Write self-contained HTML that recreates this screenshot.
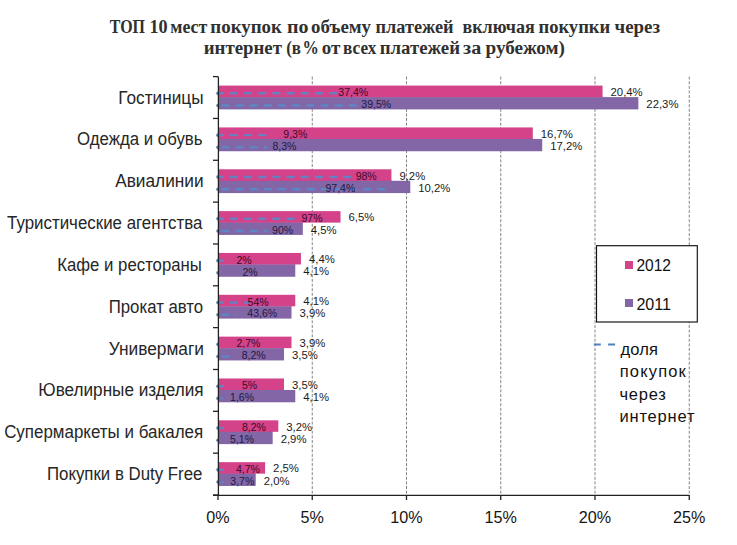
<!DOCTYPE html><html><head><meta charset="utf-8"><style>html,body{margin:0;padding:0;background:#fff;}svg{display:block;}text{font-family:"Liberation Sans",sans-serif;}</style></head><body>
<svg width="737" height="545" viewBox="0 0 737 545">
<rect width="737" height="545" fill="#fff"/>
<text x="109.80" y="32.6" textLength="35.21" lengthAdjust="spacingAndGlyphs" style="font-family:'Liberation Serif',serif;font-size:18px;font-weight:700" fill="#303030">ТОП</text>
<text x="149.49" y="32.6" textLength="18.21" lengthAdjust="spacingAndGlyphs" style="font-family:'Liberation Serif',serif;font-size:18px;font-weight:700" fill="#303030">10</text>
<text x="170.21" y="32.6" textLength="37.11" lengthAdjust="spacingAndGlyphs" style="font-family:'Liberation Serif',serif;font-size:18px;font-weight:700" fill="#303030">мест</text>
<text x="210.35" y="32.6" textLength="71.60" lengthAdjust="spacingAndGlyphs" style="font-family:'Liberation Serif',serif;font-size:18px;font-weight:700" fill="#303030">покупок</text>
<text x="287.09" y="32.6" textLength="21.53" lengthAdjust="spacingAndGlyphs" style="font-family:'Liberation Serif',serif;font-size:18px;font-weight:700" fill="#303030">по</text>
<text x="311.05" y="32.6" textLength="59.96" lengthAdjust="spacingAndGlyphs" style="font-family:'Liberation Serif',serif;font-size:18px;font-weight:700" fill="#303030">объему</text>
<text x="375.49" y="32.6" textLength="78.13" lengthAdjust="spacingAndGlyphs" style="font-family:'Liberation Serif',serif;font-size:18px;font-weight:700" fill="#303030">платежей</text>
<text x="462.40" y="32.6" textLength="72.46" lengthAdjust="spacingAndGlyphs" style="font-family:'Liberation Serif',serif;font-size:18px;font-weight:700" fill="#303030">включая</text>
<text x="538.47" y="32.6" textLength="71.76" lengthAdjust="spacingAndGlyphs" style="font-family:'Liberation Serif',serif;font-size:18px;font-weight:700" fill="#303030">покупки</text>
<text x="614.60" y="32.6" textLength="45.39" lengthAdjust="spacingAndGlyphs" style="font-family:'Liberation Serif',serif;font-size:18px;font-weight:700" fill="#303030">через</text>
<text x="203.76" y="54.3" textLength="78.13" lengthAdjust="spacingAndGlyphs" style="font-family:'Liberation Serif',serif;font-size:18px;font-weight:700" fill="#303030">интернет</text>
<text x="286.16" y="54.3" textLength="14.82" lengthAdjust="spacingAndGlyphs" style="font-family:'Liberation Serif',serif;font-size:18px;font-weight:700" fill="#303030">(в</text>
<text x="302.59" y="54.3" textLength="16.32" lengthAdjust="spacingAndGlyphs" style="font-family:'Liberation Serif',serif;font-size:18px;font-weight:700" fill="#303030">%</text>
<text x="321.75" y="54.3" textLength="18.54" lengthAdjust="spacingAndGlyphs" style="font-family:'Liberation Serif',serif;font-size:18px;font-weight:700" fill="#303030">от</text>
<text x="343.04" y="54.3" textLength="33.25" lengthAdjust="spacingAndGlyphs" style="font-family:'Liberation Serif',serif;font-size:18px;font-weight:700" fill="#303030">всех</text>
<text x="379.66" y="54.3" textLength="80.36" lengthAdjust="spacingAndGlyphs" style="font-family:'Liberation Serif',serif;font-size:18px;font-weight:700" fill="#303030">платежей</text>
<text x="463.09" y="54.3" textLength="18.07" lengthAdjust="spacingAndGlyphs" style="font-family:'Liberation Serif',serif;font-size:18px;font-weight:700" fill="#303030">за</text>
<text x="485.50" y="54.3" textLength="79.46" lengthAdjust="spacingAndGlyphs" style="font-family:'Liberation Serif',serif;font-size:18px;font-weight:700" fill="#303030">рубежом)</text>
<line x1="312.25" y1="76.60" x2="312.25" y2="495.00" stroke="#858585" stroke-width="1" stroke-dasharray="3 1.6"/>
<line x1="406.50" y1="76.60" x2="406.50" y2="495.00" stroke="#858585" stroke-width="1" stroke-dasharray="3 1.6"/>
<line x1="500.75" y1="76.60" x2="500.75" y2="495.00" stroke="#858585" stroke-width="1" stroke-dasharray="3 1.6"/>
<line x1="595.00" y1="76.60" x2="595.00" y2="495.00" stroke="#858585" stroke-width="1" stroke-dasharray="3 1.6"/>
<line x1="689.25" y1="76.60" x2="689.25" y2="495.00" stroke="#858585" stroke-width="1" stroke-dasharray="3 1.6"/>
<rect x="218.0" y="97.10" width="420.36" height="12.3" fill="#8266A6"/>
<rect x="218.0" y="96.10" width="384.54" height="1.2" fill="#8266A6"/>
<rect x="218.0" y="85.60" width="384.54" height="11.5" fill="#D4428A"/>
<rect x="218.0" y="138.94" width="324.22" height="12.3" fill="#8266A6"/>
<rect x="218.0" y="137.94" width="314.80" height="1.2" fill="#8266A6"/>
<rect x="218.0" y="127.44" width="314.80" height="11.5" fill="#D4428A"/>
<rect x="218.0" y="180.78" width="192.27" height="12.3" fill="#8266A6"/>
<rect x="218.0" y="179.78" width="173.42" height="1.2" fill="#8266A6"/>
<rect x="218.0" y="169.28" width="173.42" height="11.5" fill="#D4428A"/>
<rect x="218.0" y="222.62" width="84.82" height="12.3" fill="#8266A6"/>
<rect x="218.0" y="221.62" width="84.82" height="1.2" fill="#8266A6"/>
<rect x="218.0" y="211.12" width="122.52" height="11.5" fill="#D4428A"/>
<rect x="218.0" y="264.46" width="77.28" height="12.3" fill="#8266A6"/>
<rect x="218.0" y="263.46" width="77.28" height="1.2" fill="#8266A6"/>
<rect x="218.0" y="252.96" width="82.94" height="11.5" fill="#D4428A"/>
<rect x="218.0" y="306.30" width="73.51" height="12.3" fill="#8266A6"/>
<rect x="218.0" y="305.30" width="73.51" height="1.2" fill="#8266A6"/>
<rect x="218.0" y="294.80" width="77.28" height="11.5" fill="#D4428A"/>
<rect x="218.0" y="348.14" width="65.98" height="12.3" fill="#8266A6"/>
<rect x="218.0" y="347.14" width="65.98" height="1.2" fill="#8266A6"/>
<rect x="218.0" y="336.64" width="73.51" height="11.5" fill="#D4428A"/>
<rect x="218.0" y="389.98" width="77.28" height="12.3" fill="#8266A6"/>
<rect x="218.0" y="388.98" width="65.98" height="1.2" fill="#8266A6"/>
<rect x="218.0" y="378.48" width="65.98" height="11.5" fill="#D4428A"/>
<rect x="218.0" y="431.82" width="54.67" height="12.3" fill="#8266A6"/>
<rect x="218.0" y="430.82" width="54.67" height="1.2" fill="#8266A6"/>
<rect x="218.0" y="420.32" width="60.32" height="11.5" fill="#D4428A"/>
<rect x="218.0" y="473.66" width="37.70" height="12.3" fill="#8266A6"/>
<rect x="218.0" y="472.66" width="37.70" height="1.2" fill="#8266A6"/>
<rect x="218.0" y="462.16" width="47.12" height="11.5" fill="#D4428A"/>
<line x1="217.0" y1="93.30" x2="337" y2="93.30" stroke="#5A88C8" stroke-opacity="0.9" stroke-width="2.4" stroke-dasharray="8 6.15" stroke-dashoffset="1.15"/>
<circle cx="218.0" cy="93.30" r="1.8" fill="#4F81BD"/>
<line x1="217.0" y1="105.50" x2="358" y2="105.50" stroke="#5A88C8" stroke-opacity="0.9" stroke-width="2.4" stroke-dasharray="8 6.15" stroke-dashoffset="-4.5"/>
<circle cx="218.0" cy="105.50" r="1.8" fill="#4F81BD"/>
<line x1="217.0" y1="135.14" x2="267" y2="135.14" stroke="#5A88C8" stroke-opacity="0.9" stroke-width="2.4" stroke-dasharray="8 6.15" stroke-dashoffset="1.15"/>
<circle cx="218.0" cy="135.14" r="1.8" fill="#4F81BD"/>
<line x1="217.0" y1="147.34" x2="267" y2="147.34" stroke="#5A88C8" stroke-opacity="0.9" stroke-width="2.4" stroke-dasharray="8 6.15" stroke-dashoffset="-4.5"/>
<circle cx="218.0" cy="147.34" r="1.8" fill="#4F81BD"/>
<line x1="217.0" y1="176.98" x2="354" y2="176.98" stroke="#5A88C8" stroke-opacity="0.9" stroke-width="2.4" stroke-dasharray="8 6.15" stroke-dashoffset="1.15"/>
<circle cx="218.0" cy="176.98" r="1.8" fill="#4F81BD"/>
<line x1="217.0" y1="189.18" x2="391" y2="189.18" stroke="#5A88C8" stroke-opacity="0.9" stroke-width="2.4" stroke-dasharray="8 6.15" stroke-dashoffset="-4.5"/>
<circle cx="218.0" cy="189.18" r="1.8" fill="#4F81BD"/>
<line x1="217.0" y1="218.82" x2="297.5" y2="218.82" stroke="#5A88C8" stroke-opacity="0.9" stroke-width="2.4" stroke-dasharray="8 6.15" stroke-dashoffset="1.15"/>
<circle cx="218.0" cy="218.82" r="1.8" fill="#4F81BD"/>
<line x1="217.0" y1="231.02" x2="268" y2="231.02" stroke="#5A88C8" stroke-opacity="0.9" stroke-width="2.4" stroke-dasharray="8 6.15" stroke-dashoffset="-4.5"/>
<circle cx="218.0" cy="231.02" r="1.8" fill="#4F81BD"/>
<line x1="217.0" y1="260.66" x2="225" y2="260.66" stroke="#5A88C8" stroke-opacity="0.9" stroke-width="2.4" stroke-dasharray="8 6.15" stroke-dashoffset="1.15"/>
<circle cx="218.0" cy="260.66" r="1.8" fill="#4F81BD"/>
<line x1="217.0" y1="272.86" x2="220" y2="272.86" stroke="#5A88C8" stroke-opacity="0.9" stroke-width="2.4" stroke-dasharray="8 6.15" stroke-dashoffset="-4.5"/>
<circle cx="218.0" cy="272.86" r="1.8" fill="#4F81BD"/>
<line x1="217.0" y1="302.50" x2="249" y2="302.50" stroke="#5A88C8" stroke-opacity="0.9" stroke-width="2.4" stroke-dasharray="8 6.15" stroke-dashoffset="1.15"/>
<circle cx="218.0" cy="302.50" r="1.8" fill="#4F81BD"/>
<line x1="217.0" y1="314.70" x2="236.7" y2="314.70" stroke="#5A88C8" stroke-opacity="0.9" stroke-width="2.4" stroke-dasharray="8 6.15" stroke-dashoffset="-4.5"/>
<circle cx="218.0" cy="314.70" r="1.8" fill="#4F81BD"/>
<line x1="217.0" y1="344.34" x2="220" y2="344.34" stroke="#5A88C8" stroke-opacity="0.9" stroke-width="2.4" stroke-dasharray="8 6.15" stroke-dashoffset="1.15"/>
<circle cx="218.0" cy="344.34" r="1.8" fill="#4F81BD"/>
<line x1="217.0" y1="356.54" x2="231" y2="356.54" stroke="#5A88C8" stroke-opacity="0.9" stroke-width="2.4" stroke-dasharray="8 6.15" stroke-dashoffset="-4.5"/>
<circle cx="218.0" cy="356.54" r="1.8" fill="#4F81BD"/>
<line x1="217.0" y1="386.18" x2="225" y2="386.18" stroke="#5A88C8" stroke-opacity="0.9" stroke-width="2.4" stroke-dasharray="8 6.15" stroke-dashoffset="1.15"/>
<circle cx="218.0" cy="386.18" r="1.8" fill="#4F81BD"/>
<line x1="217.0" y1="398.38" x2="223.4" y2="398.38" stroke="#5A88C8" stroke-opacity="0.9" stroke-width="2.4" stroke-dasharray="8 6.15" stroke-dashoffset="-4.5"/>
<circle cx="218.0" cy="398.38" r="1.8" fill="#4F81BD"/>
<line x1="217.0" y1="428.02" x2="225" y2="428.02" stroke="#5A88C8" stroke-opacity="0.9" stroke-width="2.4" stroke-dasharray="8 6.15" stroke-dashoffset="1.15"/>
<circle cx="218.0" cy="428.02" r="1.8" fill="#4F81BD"/>
<line x1="217.0" y1="440.22" x2="222" y2="440.22" stroke="#5A88C8" stroke-opacity="0.9" stroke-width="2.4" stroke-dasharray="8 6.15" stroke-dashoffset="-4.5"/>
<circle cx="218.0" cy="440.22" r="1.8" fill="#4F81BD"/>
<line x1="217.0" y1="469.86" x2="224" y2="469.86" stroke="#5A88C8" stroke-opacity="0.9" stroke-width="2.4" stroke-dasharray="8 6.15" stroke-dashoffset="1.15"/>
<circle cx="218.0" cy="469.86" r="1.8" fill="#4F81BD"/>
<line x1="217.0" y1="482.06" x2="224" y2="482.06" stroke="#5A88C8" stroke-opacity="0.9" stroke-width="2.4" stroke-dasharray="8 6.15" stroke-dashoffset="-4.5"/>
<circle cx="218.0" cy="482.06" r="1.8" fill="#4F81BD"/>
<line x1="218.4" y1="76.60" x2="218.4" y2="495.50" stroke="#222" stroke-width="1.3"/>
<line x1="213" y1="76.60" x2="218.0" y2="76.60" stroke="#222" stroke-width="1.3"/>
<line x1="213" y1="118.44" x2="218.0" y2="118.44" stroke="#222" stroke-width="1.3"/>
<line x1="213" y1="160.28" x2="218.0" y2="160.28" stroke="#222" stroke-width="1.3"/>
<line x1="213" y1="202.12" x2="218.0" y2="202.12" stroke="#222" stroke-width="1.3"/>
<line x1="213" y1="243.96" x2="218.0" y2="243.96" stroke="#222" stroke-width="1.3"/>
<line x1="213" y1="285.80" x2="218.0" y2="285.80" stroke="#222" stroke-width="1.3"/>
<line x1="213" y1="327.64" x2="218.0" y2="327.64" stroke="#222" stroke-width="1.3"/>
<line x1="213" y1="369.48" x2="218.0" y2="369.48" stroke="#222" stroke-width="1.3"/>
<line x1="213" y1="411.32" x2="218.0" y2="411.32" stroke="#222" stroke-width="1.3"/>
<line x1="213" y1="453.16" x2="218.0" y2="453.16" stroke="#222" stroke-width="1.3"/>
<line x1="213" y1="495.00" x2="218.0" y2="495.00" stroke="#222" stroke-width="1.3"/>
<line x1="213" y1="495.40" x2="689.25" y2="495.40" stroke="#222" stroke-width="1.3"/>
<line x1="218.00" y1="495.00" x2="218.00" y2="500.00" stroke="#222" stroke-width="1.3"/>
<line x1="312.25" y1="495.00" x2="312.25" y2="500.00" stroke="#222" stroke-width="1.3"/>
<line x1="406.50" y1="495.00" x2="406.50" y2="500.00" stroke="#222" stroke-width="1.3"/>
<line x1="500.75" y1="495.00" x2="500.75" y2="500.00" stroke="#222" stroke-width="1.3"/>
<line x1="595.00" y1="495.00" x2="595.00" y2="500.00" stroke="#222" stroke-width="1.3"/>
<line x1="689.25" y1="495.00" x2="689.25" y2="500.00" stroke="#222" stroke-width="1.3"/>
<text x="118.32" y="103.60" textLength="85.20" lengthAdjust="spacingAndGlyphs" style="font-family:'Liberation Sans',sans-serif;font-size:17.5px;font-weight:400" fill="#262626">Гостиницы</text>
<text x="76.94" y="145.44" textLength="125.61" lengthAdjust="spacingAndGlyphs" style="font-family:'Liberation Sans',sans-serif;font-size:17.5px;font-weight:400" fill="#262626">Одежда и обувь</text>
<text x="115.20" y="187.28" textLength="88.48" lengthAdjust="spacingAndGlyphs" style="font-family:'Liberation Sans',sans-serif;font-size:17.5px;font-weight:400" fill="#262626">Авиалинии</text>
<text x="7.10" y="229.12" textLength="195.30" lengthAdjust="spacingAndGlyphs" style="font-family:'Liberation Sans',sans-serif;font-size:17.5px;font-weight:400" fill="#262626">Туристические агентства</text>
<text x="57.24" y="270.96" textLength="144.66" lengthAdjust="spacingAndGlyphs" style="font-family:'Liberation Sans',sans-serif;font-size:17.5px;font-weight:400" fill="#262626">Кафе и рестораны</text>
<text x="108.74" y="312.80" textLength="94.45" lengthAdjust="spacingAndGlyphs" style="font-family:'Liberation Sans',sans-serif;font-size:17.5px;font-weight:400" fill="#262626">Прокат авто</text>
<text x="108.71" y="354.64" textLength="95.24" lengthAdjust="spacingAndGlyphs" style="font-family:'Liberation Sans',sans-serif;font-size:17.5px;font-weight:400" fill="#262626">Универмаги</text>
<text x="38.32" y="396.48" textLength="165.30" lengthAdjust="spacingAndGlyphs" style="font-family:'Liberation Sans',sans-serif;font-size:17.5px;font-weight:400" fill="#262626">Ювелирные изделия</text>
<text x="4.13" y="438.32" textLength="199.01" lengthAdjust="spacingAndGlyphs" style="font-family:'Liberation Sans',sans-serif;font-size:17.5px;font-weight:400" fill="#262626">Супермаркеты и бакалея</text>
<text x="46.94" y="480.16" textLength="155.41" lengthAdjust="spacingAndGlyphs" style="font-family:'Liberation Sans',sans-serif;font-size:17.5px;font-weight:400" fill="#262626">Покупки в Duty Free</text>
<text x="610.54" y="95.90" font-size="11.8" textLength="32.11" lengthAdjust="spacingAndGlyphs" fill="#1c1c1c">20,4%</text>
<text x="646.36" y="108.10" font-size="11.8" textLength="32.11" lengthAdjust="spacingAndGlyphs" fill="#1c1c1c">22,3%</text>
<text x="540.80" y="137.74" font-size="11.8" textLength="32.11" lengthAdjust="spacingAndGlyphs" fill="#1c1c1c">16,7%</text>
<text x="550.22" y="149.94" font-size="11.8" textLength="32.11" lengthAdjust="spacingAndGlyphs" fill="#1c1c1c">17,2%</text>
<text x="399.42" y="179.58" font-size="11.8" textLength="25.82" lengthAdjust="spacingAndGlyphs" fill="#1c1c1c">9,2%</text>
<text x="418.27" y="191.78" font-size="11.8" textLength="32.11" lengthAdjust="spacingAndGlyphs" fill="#1c1c1c">10,2%</text>
<text x="348.52" y="221.42" font-size="11.8" textLength="25.82" lengthAdjust="spacingAndGlyphs" fill="#1c1c1c">6,5%</text>
<text x="310.82" y="233.62" font-size="11.8" textLength="25.82" lengthAdjust="spacingAndGlyphs" fill="#1c1c1c">4,5%</text>
<text x="308.94" y="263.26" font-size="11.8" textLength="25.82" lengthAdjust="spacingAndGlyphs" fill="#1c1c1c">4,4%</text>
<text x="303.28" y="275.46" font-size="11.8" textLength="25.82" lengthAdjust="spacingAndGlyphs" fill="#1c1c1c">4,1%</text>
<text x="303.28" y="305.10" font-size="11.8" textLength="25.82" lengthAdjust="spacingAndGlyphs" fill="#1c1c1c">4,1%</text>
<text x="299.51" y="317.30" font-size="11.8" textLength="25.82" lengthAdjust="spacingAndGlyphs" fill="#1c1c1c">3,9%</text>
<text x="299.51" y="346.94" font-size="11.8" textLength="25.82" lengthAdjust="spacingAndGlyphs" fill="#1c1c1c">3,9%</text>
<text x="291.98" y="359.14" font-size="11.8" textLength="25.82" lengthAdjust="spacingAndGlyphs" fill="#1c1c1c">3,5%</text>
<text x="291.98" y="388.78" font-size="11.8" textLength="25.82" lengthAdjust="spacingAndGlyphs" fill="#1c1c1c">3,5%</text>
<text x="303.28" y="400.98" font-size="11.8" textLength="25.82" lengthAdjust="spacingAndGlyphs" fill="#1c1c1c">4,1%</text>
<text x="286.32" y="430.62" font-size="11.8" textLength="25.82" lengthAdjust="spacingAndGlyphs" fill="#1c1c1c">3,2%</text>
<text x="280.67" y="442.82" font-size="11.8" textLength="25.82" lengthAdjust="spacingAndGlyphs" fill="#1c1c1c">2,9%</text>
<text x="273.12" y="472.46" font-size="11.8" textLength="25.82" lengthAdjust="spacingAndGlyphs" fill="#1c1c1c">2,5%</text>
<text x="263.70" y="484.66" font-size="11.8" textLength="25.82" lengthAdjust="spacingAndGlyphs" fill="#1c1c1c">2,0%</text>
<text x="338.30" y="96.40" font-size="10.5" fill="#3a0c28">37,4%</text>
<text x="361.30" y="108.20" font-size="10.5" fill="#1f1a42">39,5%</text>
<text x="283.30" y="138.24" font-size="10.5" fill="#3a0c28">9,3%</text>
<text x="272.50" y="150.04" font-size="10.5" fill="#1f1a42">8,3%</text>
<text x="355.70" y="180.08" font-size="10.5" fill="#3a0c28">98%</text>
<text x="325.50" y="191.88" font-size="10.5" fill="#1f1a42">97,4%</text>
<text x="301.50" y="221.92" font-size="10.5" fill="#3a0c28">97%</text>
<text x="272.10" y="233.72" font-size="10.5" fill="#1f1a42">90%</text>
<text x="236.40" y="263.76" font-size="10.5" fill="#3a0c28">2%</text>
<text x="242.50" y="275.56" font-size="10.5" fill="#1f1a42">2%</text>
<text x="247.60" y="305.60" font-size="10.5" fill="#3a0c28">54%</text>
<text x="247.30" y="317.40" font-size="10.5" fill="#1f1a42">43,6%</text>
<text x="236.50" y="347.44" font-size="10.5" fill="#3a0c28">2,7%</text>
<text x="241.70" y="359.24" font-size="10.5" fill="#1f1a42">8,2%</text>
<text x="241.90" y="389.28" font-size="10.5" fill="#3a0c28">5%</text>
<text x="230.10" y="401.08" font-size="10.5" fill="#1f1a42">1,6%</text>
<text x="241.90" y="431.12" font-size="10.5" fill="#3a0c28">8,2%</text>
<text x="230.10" y="442.92" font-size="10.5" fill="#1f1a42">5,1%</text>
<text x="236.00" y="472.96" font-size="10.5" fill="#3a0c28">4,7%</text>
<text x="230.30" y="484.76" font-size="10.5" fill="#1f1a42">3,7%</text>
<text x="206.33" y="523.2" font-size="17" textLength="23.34" lengthAdjust="spacingAndGlyphs" fill="#151515">0%</text>
<text x="300.58" y="523.2" font-size="17" textLength="23.34" lengthAdjust="spacingAndGlyphs" fill="#151515">5%</text>
<text x="390.34" y="523.2" font-size="17" textLength="32.32" lengthAdjust="spacingAndGlyphs" fill="#151515">10%</text>
<text x="484.59" y="523.2" font-size="17" textLength="32.32" lengthAdjust="spacingAndGlyphs" fill="#151515">15%</text>
<text x="578.84" y="523.2" font-size="17" textLength="32.32" lengthAdjust="spacingAndGlyphs" fill="#151515">20%</text>
<text x="673.09" y="523.2" font-size="17" textLength="32.32" lengthAdjust="spacingAndGlyphs" fill="#151515">25%</text>
<rect x="596.5" y="245.7" width="100.8" height="76.3" fill="#fff" stroke="#111" stroke-width="1.15"/>
<rect x="625" y="261" width="8" height="8" fill="#D4428A"/>
<rect x="625" y="299" width="8" height="8" fill="#8266A6"/>
<text x="636.4" y="270.9" font-size="16" textLength="34.6" lengthAdjust="spacingAndGlyphs" fill="#111">2012</text>
<text x="636.4" y="309.9" font-size="16" textLength="34.6" lengthAdjust="spacingAndGlyphs" fill="#111">2011</text>
<line x1="593.8" y1="344.6" x2="615.6" y2="344.6" stroke="#4F81BD" stroke-width="2" stroke-dasharray="7 7.3"/>
<text x="620.40" y="354.5" textLength="37.62" lengthAdjust="spacing" style="font-family:'Liberation Sans',sans-serif;font-size:16.5px;font-weight:400" fill="#111">доля</text>
<text x="619.70" y="377.1" textLength="66.11" lengthAdjust="spacing" style="font-family:'Liberation Sans',sans-serif;font-size:16.5px;font-weight:400" fill="#111">покупок</text>
<text x="619.40" y="399.5" textLength="46.54" lengthAdjust="spacing" style="font-family:'Liberation Sans',sans-serif;font-size:16.5px;font-weight:400" fill="#111">через</text>
<text x="619.40" y="422.3" textLength="75.16" lengthAdjust="spacing" style="font-family:'Liberation Sans',sans-serif;font-size:16.5px;font-weight:400" fill="#111">интернет</text>
</svg></body></html>
